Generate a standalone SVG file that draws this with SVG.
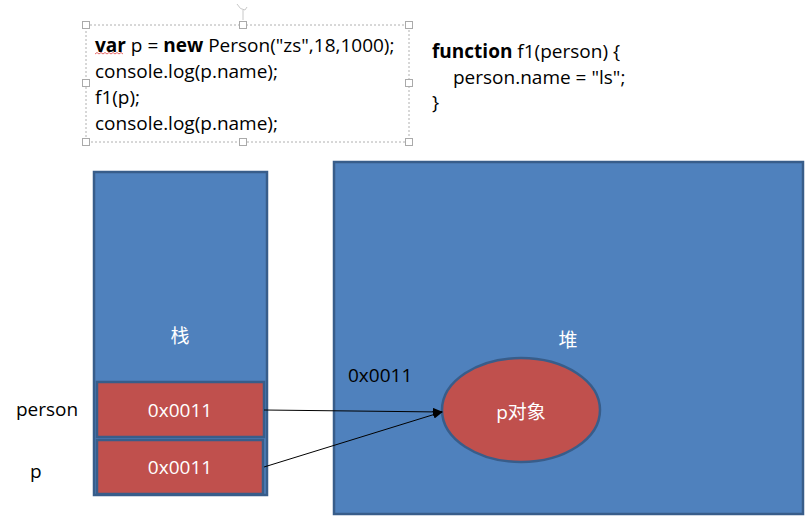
<svg xmlns="http://www.w3.org/2000/svg" width="810" height="527" viewBox="0 0 810 527">
<style>
.code{font-family:"Open Sans","Liberation Sans",sans-serif;font-size:19px;fill:#000}
.b{font-weight:bold}
.box{fill:#4F81BD;stroke:#385D8A;stroke-width:2.5}
.cell{fill:#C0504D;stroke:#385D8A;stroke-width:2.5}
.wt{font-family:"Open Sans","Liberation Sans","Noto Sans CJK SC",sans-serif;font-size:19px;fill:#fff;text-anchor:middle}
.lbl{font-family:"Open Sans","Liberation Sans","Noto Sans CJK SC",sans-serif;font-size:19px;fill:#000}
.h{fill:#fff;stroke:#aaa;stroke-width:1}
.conn{stroke:#000;stroke-width:1;fill:none}
</style>
<defs>
<marker id="arr" markerWidth="10" markerHeight="8" refX="9" refY="4" orient="auto" markerUnits="userSpaceOnUse">
<path d="M0,0 L10,4 L0,8 z" fill="#000"/>
</marker>
</defs>
<rect width="810" height="527" fill="#fff"/>
<g id="code-box">
<rect x="86" y="25" width="323" height="117" fill="none" stroke="#b0b0b0" stroke-width="1" stroke-dasharray="2,2"/>
<path d="M237,4 q3,6 8,6 l2,-3 M243,10 v10" fill="none" stroke="#c8c8c8" stroke-width="1"/>
<rect class="h" x="82.5" y="21.5" width="7" height="7"/>
<rect class="h" x="239.5" y="21.5" width="7" height="7"/>
<rect class="h" x="405.5" y="21.5" width="7" height="7"/>
<rect class="h" x="82.5" y="79.5" width="7" height="7"/>
<rect class="h" x="405.5" y="79.5" width="7" height="7"/>
<rect class="h" x="82.5" y="138.5" width="7" height="7"/>
<rect class="h" x="239.5" y="138.5" width="7" height="7"/>
<rect class="h" x="405.5" y="138.5" width="7" height="7"/>
<text class="code" x="95" y="52"><tspan class="b">var</tspan> p = <tspan class="b">new</tspan> Person("zs",18,1000);</text>
<path d="M95,54 l2,-1.5 l2,1.5 l2,-1.5 l2,1.5 l2,-1.5 l2,1.5 l2,-1.5 l2,1.5 l2,-1.5 l2,1.5 l2,-1.5 l2,1.5 l2,-1.5 l2,1.5" fill="none" stroke="#e04040" stroke-width="0.8"/>
<text class="code" x="95" y="78">console.log(p.name);</text>
<text class="code" x="95" y="104">f1(p);</text>
<text class="code" x="95" y="130">console.log(p.name);</text>
</g>
<g id="func-text">
<text class="code" x="432" y="58"><tspan class="b">function</tspan> f1(person) {</text>
<text class="code" x="453" y="84">person.name = "ls";</text>
<text class="code" x="432" y="109">}</text>
</g>
<g id="stack">
<rect class="box" x="94" y="172" width="173" height="323"/>
<text class="wt" x="180" y="343">栈</text>
</g>
<g id="heap">
<rect class="box" x="334" y="162" width="469" height="352"/>
<text class="wt" x="568" y="347">堆</text>
<text class="lbl" x="348" y="382">0x0011</text>
</g>
<g id="cell-person">
<rect class="cell" x="97" y="382" width="167" height="55"/>
<text class="wt" x="180" y="417">0x0011</text>
</g>
<g id="cell-p">
<rect class="cell" x="97" y="440" width="166" height="54"/>
<text class="wt" x="180" y="474">0x0011</text>
</g>
<g id="label-person"><text class="lbl" x="16" y="416">person</text></g>
<g id="label-p"><text class="lbl" x="30" y="478">p</text></g>
<g id="p-object">
<ellipse cx="521" cy="410" rx="79" ry="52" fill="#C0504D" stroke="#385D8A" stroke-width="2.5"/>
<text class="wt" x="521" y="419">p对象</text>
</g>
<g id="connectors">
<line class="conn" x1="264" y1="410" x2="442" y2="412" marker-end="url(#arr)"/>
<line class="conn" x1="264" y1="467" x2="442" y2="412" marker-end="url(#arr)"/>
</g>
</svg>
